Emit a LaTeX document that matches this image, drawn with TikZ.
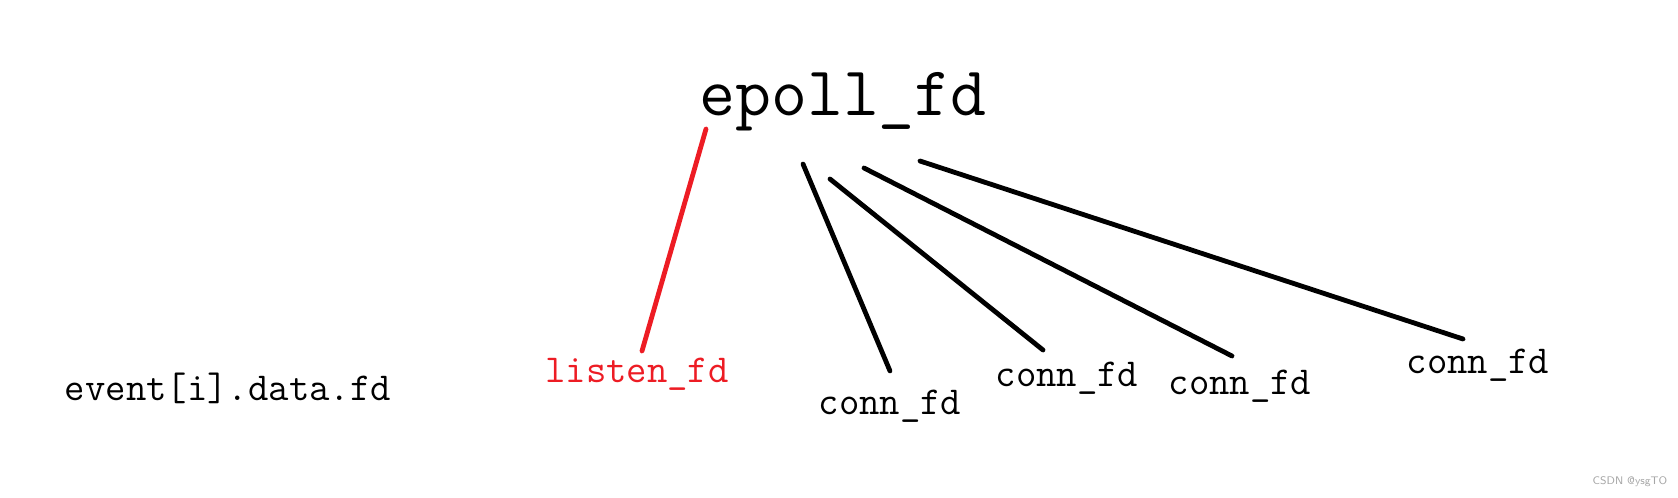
\documentclass[tikz,border=0pt]{standalone}
\usepackage{tikz}
\usetikzlibrary{positioning,calc}
\definecolor{paintred}{RGB}{237,28,36}
\tikzset{
x=0.5pt,y=-0.5pt,
lbl/.style={font=\ttfamily\fontsize{19.8pt}{24pt}\selectfont,anchor=base,inner sep=0pt},
big/.style={font=\ttfamily\fontsize{34.9pt}{40pt}\selectfont,anchor=base,inner sep=0pt},
wire/.style={line width=2.4pt,line cap=round},
hot/.style={wire,draw=paintred},
wmark/.style={font=\sffamily\fontsize{5.5pt}{6pt}\selectfont,text=black!35,inner sep=0pt},
}
\begin{document}
\begin{tikzpicture}
	\useasboundingbox (0,0) rectangle (1678,498);
	\node[big] (epoll) at (843,115) {epoll\_fd};
	\node[lbl] (ev) at (228,400) {event[i].data.fd};
	\node[lbl,text=paintred] (listen) at (637,382) {listen\_fd};
	\node[lbl] (c1) at (890,414) {conn\_fd};
	\node[lbl] (c2) at (1067,386) {conn\_fd};
	\node[lbl] (c3) at (1240,394) {conn\_fd};
	\node[lbl] (c4) at (1478,373) {conn\_fd};
	\node[wmark] (wm) at (1630,482) {CSDN @ysgTO};

	\draw[hot] ([shift={(-137,14)}]epoll.base) -- ([shift={(5,-31)}]listen.base);
	\draw[wire] ([shift={(-40,49)}]epoll.base) -- ([shift={(0,-43)}]c1.base);
	\draw[wire] ([shift={(-13,64)}]epoll.base) -- ([shift={(-24,-36)}]c2.base);
	\draw[wire] ([shift={(21,53)}]epoll.base) -- ([shift={(-8,-38)}]c3.base);
	\draw[wire] ([shift={(77,46)}]epoll.base) -- ([shift={(-15,-34)}]c4.base);
\end{tikzpicture}
\end{document}
